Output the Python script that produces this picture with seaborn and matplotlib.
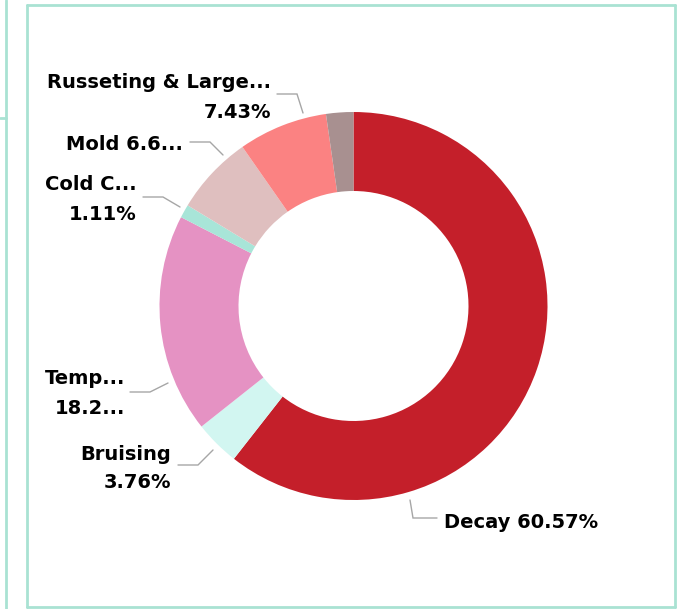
import matplotlib
matplotlib.use("Agg")
import matplotlib.pyplot as plt
import seaborn as sns
from matplotlib.lines import Line2D

sns.set_theme(style="white")
plt.rcParams["font.family"] = ["DejaVu Sans"]

# ---- data ----
categories = ["Decay", "Bruising", "Temp...", "Cold C...", "Mold", "Russeting & Large...", "Other"]
values = [60.57, 3.76, 18.24, 1.11, 6.62, 7.43, 2.27]
label_lines = [
    ["Decay 60.57%"],
    ["Bruising", "3.76%"],
    ["Temp...", "18.2..."],
    ["Cold C...", "1.11%"],
    ["Mold 6.6..."],
    ["Russeting & Large...", "7.43%"],
    [],
]
colors = ["#c41f2a", "#d2f6f1", "#e592c3", "#a8e5d8", "#dfbfbf", "#fb8282", "#a89090"]

# ---- layout (pixel coordinates, y measured from top) ----
W, H = 690, 609
def P(x, y):
    return x, H - y

center_px = (353.5, 306)
R_out, ring_w = 194, 79

label_layout = {
    "Decay": dict(ha="left", lines=[(444, 522)], leader=[(410, 500), (413, 518), (437, 518)]),
    "Bruising": dict(ha="right", lines=[(171, 455), (171, 482)], leader=[(178, 465), (198, 465), (213, 450)]),
    "Temp...": dict(ha="right", lines=[(125, 379), (125, 408)], leader=[(130, 392), (150, 392), (168, 383)]),
    "Cold C...": dict(ha="right", lines=[(137, 185), (137, 214)], leader=[(143, 197), (163, 197), (180, 207)]),
    "Mold": dict(ha="right", lines=[(183, 145)], leader=[(190, 142), (210, 142), (223, 155)]),
    "Russeting & Large...": dict(ha="right", lines=[(271, 83), (271, 112)], leader=[(277, 94), (297, 94), (303, 113)]),
}

fig = plt.figure(figsize=(W / 100, H / 100), dpi=100)
ax = fig.add_axes([0, 0, 1, 1])

ax.pie(values, colors=colors, startangle=90, counterclock=False,
       center=P(*center_px), radius=R_out,
       wedgeprops=dict(width=ring_w, edgecolor="none", linewidth=0))

ax.set_xlim(0, W)
ax.set_ylim(0, H)
ax.set_aspect("equal")
ax.axis("off")

for cat, lines in zip(categories, label_lines):
    if cat not in label_layout:
        continue
    lay = label_layout[cat]
    for txt, (x, y) in zip(lines, lay["lines"]):
        ax.text(*P(x, y), txt, ha=lay["ha"], va="center", fontsize=14,
                fontweight="bold", color="#000000")
    xs = [p[0] for p in lay["leader"]]
    ys = [H - p[1] for p in lay["leader"]]
    ax.plot(xs, ys, color="#a6a6a6", lw=1.0, solid_joinstyle="miter")

# ---- panel borders ----
bc = "#a9e2d3"
def seg(x0, y0, x1, y1):
    ax.add_line(Line2D([x0, x1], [H - y0, H - y1], color=bc, lw=2.0, clip_on=False))

seg(27, 5, 675, 5)
seg(675, 5, 675, 607)
seg(27, 607, 675, 607)
seg(27, 5, 27, 607)
seg(6, 0, 6, 609)
seg(0, 118, 6, 118)

fig.savefig("out.png", dpi=100)
